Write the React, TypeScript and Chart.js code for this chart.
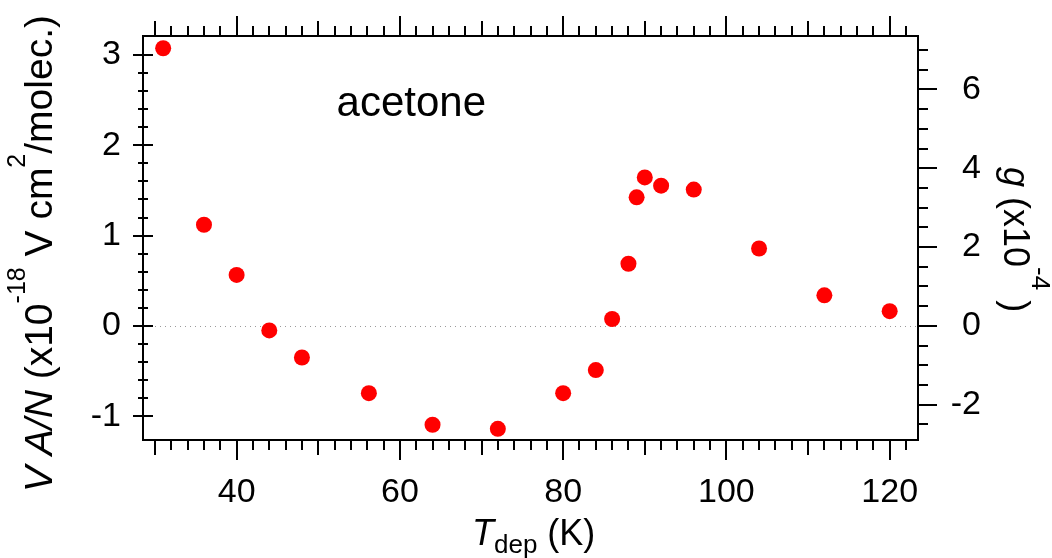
import React, { useEffect, useRef } from "react";
import { Chart, registerables } from "chart.js";

Chart.register(...registerables);

// ---- data ----
const tempK = [31, 36, 40, 44, 48, 56.2, 64, 72, 80, 84, 86, 88, 89, 90, 92, 96, 104, 112, 120];
const vAN = [3.075, 1.12, 0.565, -0.05, -0.35, -0.745, -1.095, -1.14, -0.745, -0.49, 0.076, 0.688, 1.424, 1.645, 1.553, 1.51, 0.857, 0.339, 0.163];

const bottomTicks = [40, 60, 80, 100, 120];
const leftTicks = [-1, 0, 1, 2, 3];
const rightTicks = [-2, 0, 2, 4, 6];

const xRange = [28.53, 123.47];
const leftRange = [-1.264, 3.211];
const rightRange = [-2.896, 7.357];

const annotationText = "acetone";
const annotationAt = { x: 52.24, y: 2.32 };

const FAMILY = '"Liberation Sans", Arial, Helvetica, sans-serif';

type Seg = { text: string; size: number; italic?: boolean; dy?: number };

function drawRich(ctx: CanvasRenderingContext2D, segs: Seg[], x: number, y: number, angle: number) {
  ctx.save();
  ctx.translate(x, y);
  ctx.rotate(angle);
  ctx.fillStyle = "#000";
  ctx.textAlign = "left";
  ctx.textBaseline = "alphabetic";
  let cx = 0;
  for (const s of segs) {
    ctx.font = `${s.italic ? "italic " : ""}${s.size}px ${FAMILY}`;
    ctx.fillText(s.text, cx, s.dy || 0);
    cx += ctx.measureText(s.text).width;
  }
  ctx.restore();
}

const zeroPad = (s: any) => {
  s.paddingTop = 0;
  s.paddingBottom = 0;
  s.paddingLeft = 0;
  s.paddingRight = 0;
};

const framePlugin = {
  id: "framePlugin",
  beforeDatasetsDraw(chart: any) {
    const { ctx, chartArea: ca } = chart;
    const yl = chart.scales.y;
    const y0 = Math.round(yl.getPixelForValue(0)) + 0.5;
    ctx.save();
    ctx.strokeStyle = "#9a9a9a";
    ctx.lineWidth = 1;
    ctx.setLineDash([1, 4]);
    ctx.beginPath();
    ctx.moveTo(ca.left + 2, y0);
    ctx.lineTo(ca.right - 2, y0);
    ctx.stroke();
    ctx.restore();
  },
  afterDraw(chart: any) {
    const { ctx, chartArea: ca } = chart;
    const xs = chart.scales.x;
    const yl = chart.scales.y;
    const yr = chart.scales.y2;
    ctx.save();
    ctx.strokeStyle = "#000";
    ctx.lineWidth = 2;
    ctx.lineCap = "butt";
    ctx.strokeRect(ca.left, ca.top, ca.right - ca.left, ca.bottom - ca.top);
    ctx.beginPath();
    // bottom & top ticks every 2 K
    for (let k = 30; k <= 122; k += 2) {
      const px = Math.round(xs.getPixelForValue(k));
      const len = k % 20 === 0 ? 20 : k % 10 === 0 ? 15 : 10;
      ctx.moveTo(px, ca.bottom);
      ctx.lineTo(px, ca.bottom + len);
      ctx.moveTo(px, ca.top);
      ctx.lineTo(px, ca.top - len);
    }
    // left ticks every 0.2, crossing the axis
    for (let i = -5; i <= 15; i++) {
      const py = Math.round(yl.getPixelForValue(i * 0.2));
      const h = i % 5 === 0 ? 10 : 5;
      ctx.moveTo(ca.left - h, py);
      ctx.lineTo(ca.left + h, py);
    }
    // right ticks every 0.5, outward
    for (let i = -5; i <= 14; i++) {
      const py = Math.round(yr.getPixelForValue(i * 0.5));
      const len = i % 4 === 0 ? 19 : 10;
      ctx.moveTo(ca.right, py);
      ctx.lineTo(ca.right + len, py);
    }
    ctx.stroke();
    ctx.restore();

    // annotation
    ctx.save();
    ctx.fillStyle = "#000";
    ctx.font = `42px ${FAMILY}`;
    ctx.textAlign = "left";
    ctx.textBaseline = "alphabetic";
    ctx.fillText(annotationText, xs.getPixelForValue(annotationAt.x), yl.getPixelForValue(annotationAt.y));
    ctx.restore();

    // left title (reads bottom to top)
    drawRich(
      ctx,
      [
        { text: "V A/N", size: 39, italic: true },
        { text: " (x10", size: 39 },
        { text: "-18", size: 25, dy: -27 },
        { text: " V cm", size: 39 },
        { text: "2", size: 25, dy: -27 },
        { text: "/molec.)", size: 39 },
      ],
      52,
      492,
      -Math.PI / 2
    );
    // bottom title
    drawRich(
      ctx,
      [
        { text: "T", size: 36, italic: true },
        { text: "dep", size: 26, dy: 8 },
        { text: " (K)", size: 36 },
      ],
      472,
      545,
      0
    );
    // right title (reads top to bottom)
    drawRich(
      ctx,
      [
        { text: "g", size: 36, italic: true },
        { text: " (x10", size: 36 },
        { text: "-4", size: 26, dy: -28 },
        { text: " )", size: 36 },
      ],
      1004,
      167,
      Math.PI / 2
    );
  },
};

export default function App() {
  const ref = useRef<HTMLCanvasElement | null>(null);
  useEffect(() => {
    if (!ref.current) return;
    const tickFont = { size: 34, family: FAMILY };
    const chart = new Chart(ref.current, {
      type: "scatter",
      data: {
        datasets: [
          {
            data: tempK.map((t, i) => ({ x: t, y: vAN[i] })),
            backgroundColor: "#ff0000",
            borderWidth: 0,
            pointRadius: 8,
            pointHoverRadius: 8,
            yAxisID: "y",
          },
        ],
      },
      options: {
        animation: false,
        responsive: false,
        maintainAspectRatio: false,
        events: [],
        layout: { padding: { left: 0, right: 71, top: 36, bottom: 0 } },
        plugins: { legend: { display: false }, tooltip: { enabled: false }, title: { display: false } },
        scales: {
          x: {
            type: "linear",
            position: "bottom",
            min: xRange[0],
            max: xRange[1],
            grid: { display: false, drawTicks: false },
            border: { display: false },
            ticks: { font: tickFont, color: "#000", padding: 32, maxRotation: 0, autoSkip: false },
            afterBuildTicks: (s: any) => {
              s.ticks = bottomTicks.map((v) => ({ value: v }));
            },
            afterFit: (s: any) => {
              s.height = 118;
              zeroPad(s);
            },
          },
          y: {
            type: "linear",
            position: "left",
            min: leftRange[0],
            max: leftRange[1],
            grid: { display: false, drawTicks: false },
            border: { display: false },
            ticks: { font: tickFont, color: "#000", padding: 22, autoSkip: false },
            afterBuildTicks: (s: any) => {
              s.ticks = leftTicks.map((v) => ({ value: v }));
            },
            afterFit: (s: any) => {
              s.width = 143;
              zeroPad(s);
            },
          },
          y2: {
            type: "linear",
            position: "right",
            min: rightRange[0],
            max: rightRange[1],
            grid: { display: false, drawTicks: false },
            border: { display: false },
            ticks: { font: tickFont, color: "#000", padding: 22, crossAlign: "far", autoSkip: false },
            afterBuildTicks: (s: any) => {
              s.ticks = rightTicks.map((v) => ({ value: v }));
            },
            afterFit: (s: any) => {
              s.width = 63;
              zeroPad(s);
            },
          },
        },
      },
      plugins: [framePlugin],
    } as any);
    return () => chart.destroy();
  }, []);
  return (
    <div style={{ position: "fixed", left: 0, top: 0, width: 1052, height: 558, background: "#fff" }}>
      <canvas ref={ref} width={1052} height={558} style={{ display: "block", width: 1052, height: 558 }} />
    </div>
  );
}
